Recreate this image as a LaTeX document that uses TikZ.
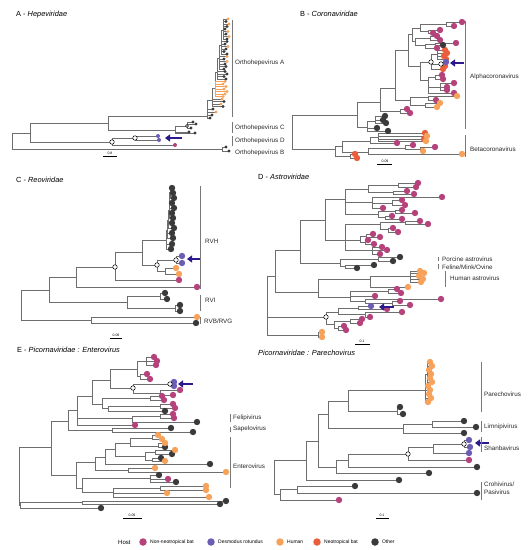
\documentclass[tikz,border=0pt]{standalone}
\usepackage{fontspec}
\setmainfont{Liberation Sans}
\usetikzlibrary{positioning,arrows.meta}

\definecolor{nnbat}{RGB}{181,66,122}
\definecolor{desmo}{RGB}{108,92,180}
\definecolor{human}{RGB}{246,162,90}
\definecolor{neobat}{RGB}{234,94,60}
\definecolor{other}{RGB}{58,58,58}
\definecolor{arrowblue}{RGB}{44,26,140}
\definecolor{brgray}{RGB}{110,110,110}
\definecolor{bargray}{RGB}{120,120,120}
\definecolor{labtext}{RGB}{40,40,40}

\begin{document}
\begin{tikzpicture}[x=1pt, y=-1pt,
  branch/.style={draw=brgray, line width=0.45pt},
  hbranch/.style={draw=human, line width=0.45pt},
  cladebar/.style={draw=bargray, line width=0.6pt},
  cladelabel/.style={anchor=west, inner sep=0pt, font=\fontsize{6.3}{7}\selectfont, text=labtext},
  paneltitle/.style={anchor=west, inner sep=0pt, font=\fontsize{7.4}{8}\selectfont},
  scaletext/.style={inner sep=0pt, font=\fontsize{3.5}{4}\selectfont},
  scalebar/.style={draw=black, line width=0.4pt},
  knot/.style={circle, draw=black, fill=white, line width=0.5pt, inner sep=0pt, minimum size=4.5pt},
  hostarrow/.style={-{Triangle[length=5pt, width=7pt]}, line width=2.2pt, draw=arrowblue},
  legendtext/.style={anchor=west, inner sep=0pt, font=\fontsize{5}{6}\selectfont},
  legenddot/.style={circle, inner sep=0pt, minimum size=7.5pt},
]
\useasboundingbox (0,0) rectangle (530,550);
\fill[white] (0,0) rectangle (530,550);

% === A - Hepeviridae ===
\node[paneltitle] (titA) at (16,15) {A - \textit{Hepeviridae}};
\foreach \px/\py/\cx/\cy in {
  12/141/30/133, 12/141/222/149, 222/149/226/147, 222/149/229/151,
  30/133/108/123, 30/133/112/142, 112/142/135/138, 135/138/158/136,
  135/138/159/140, 112/142/175/145,
  108/123/207/116, 108/123/175/130, 175/130/187/126, 187/126/193/122,
  187/126/196/124, 187/126/191/128, 175/130/189/132, 175/130/195/133,
  207/116/212/100, 207/116/213/109, 207/116/216/112, 207/116/212/115, 207/116/210/118,
  212/100/215/88, 212/100/222/99, 212/100/224/101.5, 212/100/221/104, 212/100/223/106.5,
  215/88/217/72,
  217/72/219/58, 217/72/225/71.5, 217/72/227/74, 217/72/224/76.5, 217/72/226/79,
  219/58/221/45, 219/58/227/56.5, 219/58/224/59, 219/58/227/61.5, 219/58/225/64,
  219/58/226/66.5, 219/58/224/69,
  221/45/223/30, 221/45/227/41.5, 221/45/225/44, 221/45/228/46.5, 221/45/226/49,
  221/45/224/51.5, 221/45/227/54,
  223/30/228/19, 223/30/226/21.5, 223/30/229/24, 223/30/227/26.5, 223/30/225/29,
  223/30/228/31.5, 223/30/226/34, 223/30/229/36.5, 223/30/227/39}
  \draw[branch] (\px,\py) |- (\cx,\cy);
\foreach \cx/\cy in {225/81.5, 223/84, 226/86.5, 224/89, 227/91.5, 225/94, 223/96.5}
  \draw[hbranch] (215,88) |- (\cx,\cy);
\foreach \x/\y in {228/19, 229/24, 228/31.5, 229/36.5, 228/46.5, 227/56.5, 227/61.5,
  225/81.5, 223/84, 226/86.5, 224/89, 227/91.5, 225/94, 223/96.5, 222/99, 221/104, 216/112}
  \fill[human] (\x,\y) circle (1.7);
\foreach \x/\y in {226/21.5, 227/26.5, 225/29, 226/34, 227/39, 227/41.5, 225/44, 226/49,
  224/51.5, 227/54, 224/59, 225/64, 226/66.5, 224/69, 225/71.5, 227/74, 224/76.5, 226/79,
  224/101.5, 223/106.5, 213/109, 212/115, 210/118, 193/122, 196/124, 191/128, 189/132,
  195/133, 226/147, 229/151}
  \fill[other] (\x,\y) circle (1.7);
\foreach \x/\y in {158/136, 159/140} \fill[desmo] (\x,\y) circle (2);
\fill[nnbat] (175,145) circle (2);
\node[knot] (kA1) at (112,142) {};
\node[knot] (kA2) at (135,138) {};
\node[knot, minimum size=3pt] (kA3) at (187,126) {};
\coordinate (arrA) at (182,138);
\coordinate (endA) at (165,138);
\draw[hostarrow] (arrA) -- (endA);
\draw[cladebar] (232,20) -- (232,117);
\draw[cladebar] (232,122) -- (232,133);
\draw[cladebar] (232,136) -- (232,146);
\node[cladelabel] (labA1) at (235,63) {Orthohepevirus A};
\node[cladelabel] (labA2) at (235,128) {Orthohepevirus C};
\node[cladelabel] (labA3) at (235,141) {Orthohepevirus D};
\node[cladelabel] (labA4) at (235,153) {Orthohepevirus B};
\node[scaletext] (scA) at (110,153) {0.8};
\draw[scalebar] (103,156) -- (117,156);

% === B - Coronaviridae ===
\node[paneltitle] (titB) at (300,14) {B - \textit{Coronaviridae}};
\foreach \px/\py/\cx/\cy in {
  292/132/357/115, 292/132/335/149,
  357/115/380/102, 357/115/367/127,
  367/127/375/121, 375/121/385/116, 375/121/383/120, 375/121/386/123,
  367/127/377/128, 367/127/388/131,
  380/102/395/88, 380/102/400/111, 400/111/407/109, 400/111/410/113,
  395/88/408/50, 395/88/410/100,
  410/100/428/97, 428/97/457/96, 428/97/436/100, 410/100/425/105,
  425/105/440/103, 425/105/437/107,
  408/50/412/34, 408/50/420/66,
  412/34/420/28, 412/34/415/41,
  420/28/446/24, 446/24/462/22, 446/24/454/26, 420/28/428/31, 428/31/440/30, 428/31/433/33,
  415/41/430/38, 430/38/437/36, 430/38/440/40, 415/41/425/45, 425/45/435/44,
  435/44/456/43, 435/44/443/45, 425/45/437/48,
  420/66/431/62, 420/66/428/80,
  431/62/437/54, 437/54/445/50, 437/54/447/53, 437/54/444/56, 437/54/446/59,
  431/62/441/64, 441/64/446/62, 441/64/445/66, 431/62/443/69,
  428/80/435/77, 435/77/442/75, 435/77/443/79, 428/80/440/87, 440/87/454/83,
  440/87/447/87, 440/87/447/90, 428/80/454/93,
  335/149/342/146, 335/149/350/156, 350/156/355/154, 350/156/357/158,
  342/146/370/141, 342/146/368/152,
  370/141/378/137, 378/137/425/133, 378/137/427/136, 378/137/424/139, 378/137/426/141,
  370/141/397/143,
  368/152/405/148, 405/148/413/145, 405/148/420/149, 420/149/435/147, 420/149/423/151,
  368/152/462/154}
  \draw[branch] (\px,\py) |- (\cx,\cy);
\foreach \x/\y in {462/22, 454/26, 440/30, 433/33, 437/36, 440/40, 456/43, 437/48,
  442/75, 443/79, 454/83, 447/87, 447/90, 454/93, 436/100, 407/109, 410/113,
  397/143, 413/145, 435/147}
  \fill[nnbat] (\x,\y) circle (3.2);
\foreach \x/\y in {445/50, 447/53, 444/56, 446/59, 445/66, 443/69, 425/133, 424/139,
  355/154, 357/158}
  \fill[neobat] (\x,\y) circle (3.2);
\foreach \x/\y in {457/96, 440/103, 437/107, 427/136, 426/141, 423/151, 462/154}
  \fill[human] (\x,\y) circle (3.2);
\foreach \x/\y in {443/45, 385/116, 383/120, 386/123, 377/128, 388/131}
  \fill[other] (\x,\y) circle (3.2);
\fill[desmo] (446,62) circle (3.2);
\node[knot] (kB1) at (431,62) {};
\node[knot] (kB2) at (441,64) {};
\coordinate (arrB) at (464,63);
\coordinate (endB) at (450,63);
\draw[hostarrow] (arrB) -- (endB);
\draw[cladebar] (465,21) -- (465,129);
\draw[cladebar] (465,135) -- (465,157);
\node[cladelabel] (labB1) at (470,77) {Alphacoronavirus};
\node[cladelabel] (labB2) at (470,149) {Betacoronavirus};
\node[scaletext] (scB) at (385,161) {0.09};
\draw[scalebar] (377,164) -- (392,164);

% === C - Reoviridae ===
\node[paneltitle] (titC) at (16,180) {C - \textit{Reoviridae}};
\foreach \px/\py/\cx/\cy in {
  21/303/49/290, 21/303/91/320, 91/320/197/317, 91/320/196/323,
  49/290/76/277, 49/290/127/302,
  127/302/160/296, 160/296/165/293, 160/296/167/299,
  127/302/175/308, 175/308/180/305, 175/308/180/311,
  76/277/115/267, 76/277/197/287,
  115/267/142/252, 115/267/179/280,
  142/252/166/240, 142/252/157/265,
  157/265/176/260, 176/260/182/256, 176/260/182/263,
  157/265/165/271, 165/271/176/268, 165/271/179/274,
  166/240/171/249, 166/240/172/244, 166/240/167/230,
  167/230/173/238, 167/230/172/233, 167/230/168/220,
  168/220/174/228, 168/220/172/223, 168/220/169/210,
  169/210/173/218, 169/210/172/213, 169/210/169/200,
  169/200/174/208, 169/200/172/203, 169/200/170/192,
  170/192/174/198, 170/192/173/193, 170/192/172/188}
  \draw[branch] (\px,\py) |- (\cx,\cy);
\foreach \x/\y in {171/249, 172/244, 173/238, 172/233, 174/228, 172/223, 173/218,
  172/213, 174/208, 172/203, 174/198, 173/193, 172/188,
  165/293, 167/299, 180/305, 180/311, 196/323}
  \fill[other] (\x,\y) circle (3.2);
\foreach \x/\y in {182/256, 182/263} \fill[desmo] (\x,\y) circle (3.2);
\foreach \x/\y in {176/268, 179/274, 197/317} \fill[human] (\x,\y) circle (3.2);
\foreach \x/\y in {179/280, 197/287} \fill[nnbat] (\x,\y) circle (3.2);
\node[knot] (kC1) at (115,267) {};
\node[knot] (kC2) at (157,265) {};
\node[knot] (kC3) at (176,260) {};
\coordinate (arrC) at (201,259);
\coordinate (endC) at (187,259);
\draw[hostarrow] (arrC) -- (endC);
\draw[cladebar] (200,186) -- (200,289);
\draw[cladebar] (200,295) -- (200,311);
\draw[cladebar] (200,317) -- (200,324);
\node[cladelabel] (labC1) at (205,241) {RVH};
\node[cladelabel] (labC2) at (205,300) {RVI};
\node[cladelabel] (labC3) at (204,321) {RVB/RVG};
\node[scaletext] (scC) at (116,335) {0.09};
\draw[scalebar] (110,338) -- (122,338);

% === D - Astroviridae ===
\node[paneltitle] (titD) at (258,177) {D - \textit{Astroviridae}};
\foreach \px/\py/\cx/\cy in {
  267/305/275/276, 267/305/326/317, 267/305/318/335,
  318/335/322/332, 318/335/322/337,
  275/276/300/250, 275/276/318/292,
  300/250/325/220, 300/250/340/263,
  340/263/378/259, 378/259/400/257, 378/259/393/261,
  340/263/345/266, 345/266/374/265, 345/266/357/268,
  325/220/345/199, 325/220/345/240,
  345/199/368/189, 345/199/372/202, 345/199/378/214,
  368/189/398/185, 398/185/418/183, 398/185/416/187,
  368/189/393/192, 393/192/407/191, 393/192/414/194,
  372/202/442/197, 372/202/392/203, 392/203/402/200, 392/203/405/205, 372/202/383/208,
  378/214/395/211, 395/211/402/210, 395/211/415/213,
  378/214/385/217, 385/217/392/216, 385/217/402/219,
  345/240/380/224, 345/240/360/240, 345/240/372/250,
  380/224/405/222, 405/222/420/221, 405/222/428/224,
  380/224/388/229, 388/229/393/228, 388/229/398/232,
  360/240/366/236, 366/236/373/234, 366/236/380/237,
  360/240/365/242, 365/242/368/240, 365/242/374/244,
  372/250/382/247, 372/250/387/250, 372/250/380/254,
  318/292/370/279, 318/292/350/297,
  370/279/410/276, 410/276/420/271, 410/276/424/273, 410/276/419/276,
  410/276/423/279, 410/276/421/282, 370/279/408/287,
  350/297/388/291, 388/291/397/289, 388/291/401/293, 350/297/375/296,
  350/297/365/301, 365/301/441/299, 365/301/392/303, 392/303/400/301, 392/303/410/305,
  326/317/338/312, 326/317/334/324,
  338/312/358/308, 358/308/371/306, 358/308/387/309,
  338/312/365/314, 365/314/402/312, 365/314/370/317,
  334/324/350/321, 350/321/362/319, 350/321/360/323,
  334/324/338/328, 338/328/344/326, 338/328/346/330}
  \draw[branch] (\px,\py) |- (\cx,\cy);
\foreach \x/\y in {418/183, 416/187, 407/191, 414/194, 442/197, 402/200, 405/205, 383/208,
  402/210, 415/213, 392/216, 402/219, 420/221, 428/224, 393/228, 398/232, 373/234,
  380/237, 368/240, 374/244, 382/247, 387/250, 380/254,
  397/289, 401/293, 375/296, 441/299, 400/301, 410/305,
  387/309, 402/312, 370/317, 362/319, 360/323, 344/326, 346/330}
  \fill[nnbat] (\x,\y) circle (3.2);
\foreach \x/\y in {400/257, 393/261, 374/265, 357/268} \fill[other] (\x,\y) circle (3.2);
\foreach \x/\y in {420/271, 424/273, 419/276, 423/279, 421/282, 408/287, 322/332, 322/337}
  \fill[human] (\x,\y) circle (3.2);
\fill[desmo] (371,306) circle (3.2);
\node[knot] (kD1) at (326,317) {};
\coordinate (arrD) at (394,307);
\coordinate (endD) at (379,307);
\draw[hostarrow] (arrD) -- (endD);
\draw[cladebar] (438,257) -- (438,261);
\draw[cladebar] (438,264) -- (438,269);
\draw[cladebar] (445,271) -- (445,287);
\node[cladelabel] (labD1) at (442,259) {Porcine astrovirus};
\node[cladelabel] (labD2) at (442,267) {Feline/Mink/Ovine};
\node[cladelabel] (labD3) at (450,278) {Human astrovirus};
\node[scaletext] (scD) at (362,341) {0.1};
\draw[scalebar] (355,344) -- (370,344);

% === E - Picornaviridae : Enterovirus ===
\node[paneltitle] (titE) at (17,350) {E - \textit{Picornaviridae : Enterovirus}};
\foreach \px/\py/\cx/\cy in {
  19/475/51/447, 19/475/20/505,
  20/505/82/502, 82/502/226/501, 82/502/220/504, 20/505/101/508,
  51/447/68/421, 51/447/76/475,
  68/421/77/410, 68/421/112/430, 112/430/171/428, 112/430/193/432,
  77/410/92/396, 77/410/132/418, 77/410/135/425,
  132/418/160/416, 160/416/173/414, 160/416/174/418, 132/418/197/422,
  92/396/110/380, 92/396/102/404,
  110/380/137/369, 110/380/133/388,
  137/369/146/361, 146/361/154/357, 146/361/157/361, 146/361/156/365,
  137/369/140/376, 140/376/147/374, 140/376/150/379,
  133/388/170/384, 170/384/174/382, 170/384/174/386,
  133/388/160/393, 160/393/180/390, 160/393/173/395,
  102/404/150/398, 150/398/162/396, 150/398/164/400,
  102/404/108/408, 108/408/160/406, 160/406/173/404, 160/406/175/408, 108/408/165/411,
  76/475/95/462, 76/475/82/488,
  95/462/105/457, 95/462/128/470, 128/470/155/468, 128/470/226/472,
  105/457/115/449, 105/457/210/464,
  115/449/130/443, 115/449/145/456,
  130/443/152/438, 152/438/158/435, 152/438/162/439,
  130/443/158/446, 158/446/165/443, 158/446/165/447,
  145/456/155/452, 155/452/175/450, 155/452/172/454,
  145/456/152/460, 152/460/161/458, 152/460/165/461,
  82/488/150/478, 150/478/159/475, 150/478/168/479, 150/478/176/482,
  82/488/113/492, 113/492/160/488, 160/488/206/486, 160/488/206/490,
  113/492/167/493, 113/492/209/497}
  \draw[branch] (\px,\py) |- (\cx,\cy);
\foreach \x/\y in {154/357, 157/361, 156/365, 147/374, 150/379, 180/390, 173/395,
  162/396, 164/400, 173/404, 175/408, 173/414, 174/418, 135/425, 168/479}
  \fill[nnbat] (\x,\y) circle (3.2);
\foreach \x/\y in {174/382, 174/386} \fill[desmo] (\x,\y) circle (3.2);
\foreach \x/\y in {165/411, 197/422, 171/428, 193/432, 165/447, 172/454, 161/458,
  210/464, 159/475, 176/482, 226/501, 220/504, 101/508}
  \fill[other] (\x,\y) circle (3.2);
\foreach \x/\y in {158/435, 162/439, 165/443, 175/450, 165/461, 155/468, 226/472,
  206/486, 206/490, 167/493, 209/497}
  \fill[human] (\x,\y) circle (3.2);
\node[knot] (kE1) at (133,388) {};
\node[knot] (kE2) at (170,384) {};
\coordinate (arrE) at (193,384);
\coordinate (endE) at (178,384);
\draw[hostarrow] (arrE) -- (endE);
\draw[cladebar] (230,414) -- (230,422);
\draw[cladebar] (230,427) -- (230,432);
\draw[cladebar] (230,437) -- (230,488);
\node[cladelabel] (labE1) at (233,418) {Felipivirus};
\node[cladelabel] (labE2) at (233,429) {Sapelovirus};
\node[cladelabel] (labE3) at (233,466) {Enterovirus};
\node[scaletext] (scE) at (132,515) {0.09};
\draw[scalebar] (123,518) -- (142,518);

% === Picornaviridae : Parechovirus ===
\node[paneltitle] (titF) at (258,353) {\textit{Picornaviridae : Parechovirus}};
\foreach \px/\py/\cx/\cy in {
  274/477/306/460, 274/477/280/494,
  280/494/297/489, 297/489/355/486, 297/489/477/493, 280/494/339/500,
  306/460/318/441, 306/460/399/480,
  318/441/328/414, 318/441/336/467,
  328/414/348/401, 328/414/403/428,
  348/401/425/390, 348/401/397/411, 397/411/400/407, 397/411/403/414,
  425/390/427/374, 427/374/430/362, 427/374/432/366, 427/374/429/370, 427/374/431/374,
  427/374/430/378, 427/374/432/382, 427/374/428/386,
  425/390/430/390, 425/390/429/394, 425/390/431/398, 425/390/428/402,
  403/428/432/424, 432/424/464/421, 432/424/476/427, 403/428/464/433,
  336/467/348/460, 336/467/429/473,
  348/460/408/454, 348/460/477/467,
  408/454/433/447, 433/447/464/444, 464/444/469/440, 464/444/470/447,
  433/447/469/453, 408/454/469/460}
  \draw[branch] (\px,\py) |- (\cx,\cy);
\foreach \x/\y in {430/362, 432/366, 429/370, 431/374, 430/378, 432/382, 428/386,
  430/390, 429/394, 431/398, 428/402}
  \fill[human] (\x,\y) circle (3.2);
\foreach \x/\y in {400/407, 403/414, 464/421, 476/427, 464/433, 477/467, 429/473,
  399/480, 355/486, 477/493}
  \fill[other] (\x,\y) circle (3.2);
\foreach \x/\y in {469/440, 470/447, 469/453} \fill[desmo] (\x,\y) circle (3.2);
\foreach \x/\y in {469/460, 339/500} \fill[nnbat] (\x,\y) circle (3.2);
\node[knot] (kF1) at (408,454) {};
\node[knot] (kF2) at (464,444) {};
\coordinate (arrF) at (489,443);
\coordinate (endF) at (475,443);
\draw[hostarrow] (arrF) -- (endF);
\draw[cladebar] (481,362) -- (481,412);
\draw[cladebar] (481,421) -- (481,432);
\draw[cladebar] (481,437) -- (481,452);
\draw[cladebar] (481,482) -- (481,500);
\node[cladelabel] (labF1) at (484,394) {Parechovirus};
\node[cladelabel] (labF2) at (484,427) {Limnipivirus};
\node[cladelabel] (labF3) at (484,448) {Shanbavirus};
\node[cladelabel] (labF4) at (484,484) {Crohivirus/};
\node[cladelabel] (labF5) at (484,492) {Pasivirus};
\node[scaletext] (scF) at (382,515) {0.1};
\draw[scalebar] (376,518) -- (389,518);

% === Legend ===
\node[anchor=west, inner sep=0pt, font=\fontsize{6}{7}\selectfont] (host) at (118,542) {Host};
\node[legenddot, fill=nnbat] (lgnnb) at (143,542) {};
\node[legendtext, right=3pt of lgnnb] (txnnb) {Non-neotropical bat};
\node[legenddot, fill=desmo] (lgdes) at (211,542) {};
\node[legendtext, right=3pt of lgdes] (txdes) {Desmodus rotundus};
\node[legenddot, fill=human] (lghum) at (280,542) {};
\node[legendtext, right=3pt of lghum] (txhum) {Human};
\node[legenddot, fill=neobat] (lgneo) at (317,542) {};
\node[legendtext, right=3pt of lgneo] (txneo) {Neotropical bat};
\node[legenddot, fill=other] (lgoth) at (375,542) {};
\node[legendtext, right=3pt of lgoth] (txoth) {Other};

\end{tikzpicture}
\end{document}
